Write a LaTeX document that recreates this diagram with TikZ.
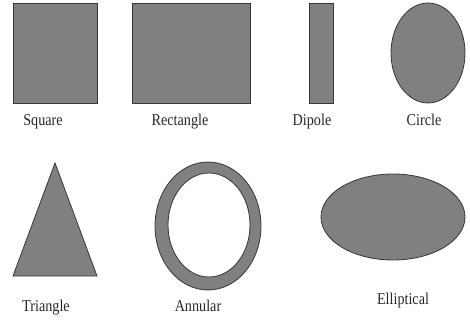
\documentclass[tikz,border=0pt]{standalone}
\usepackage{fontspec}
\setmainfont{Liberation Serif}
\usetikzlibrary{positioning}
\definecolor{patchgray}{RGB}{128,128,128}
\definecolor{edgegray}{RGB}{55,55,55}
\tikzset{
  patch/.style={fill=patchgray, draw=edgegray, line width=0.8pt},
  caption/.style={anchor=base, inner sep=0, xscale=0.86, text=black!85,
    font=\fontsize{16.5}{18}\selectfont}
}

\begin{document}
\begin{tikzpicture}[x=1pt, y=-1pt]
\useasboundingbox (0,0) rectangle (470,324);
% first row
\path[patch] (13,3) rectangle (97,103);
\path[patch] (132,3) rectangle (250,103);
\path[patch] (309,3) rectangle (333,103);
\path[patch] (428,53) ellipse [x radius=37, y radius=50];
\node[caption] (sq) at (43,125) {Square};
\node[caption] (rect) at (180,125) {Rectangle};
\node[caption] (dip) at (312,125) {Dipole};
\node[caption] (circ) at (424,125) {Circle};
% second row
\path[patch] (55,163) -- (97,276) -- (13,276) -- cycle;
\path[patch, even odd rule] (208,226) ellipse [x radius=53, y radius=64]
    (209,225) ellipse [x radius=41, y radius=52];
\path[patch] (393,217) ellipse [x radius=72, y radius=43];
\node[caption] (tri) at (46,311) {Triangle};
\node[caption] (ann) at (198,311) {Annular};
\node[caption] (ell) at (403,304) {Elliptical};
\end{tikzpicture}
\end{document}
